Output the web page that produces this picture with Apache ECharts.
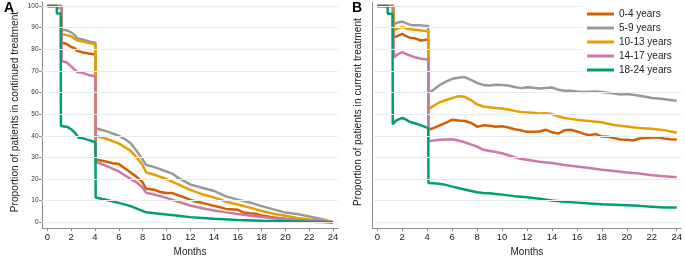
<!DOCTYPE html>
<html>
<head>
<meta charset="utf-8">
<script src="https://cdn.jsdelivr.net/npm/echarts@6/dist/echarts.min.js"></script>
<style>
  html, body { margin: 0; padding: 0; background: #fff; }
  #chart { width: 685px; height: 262px; }
</style>
</head>
<body>
<div id="chart"></div>
<script>
// age groups
var groups = ["0-4 years", "5-9 years", "10-13 years", "14-17 years", "18-24 years"];
var colors = ["#D55E00", "#999999", "#E69F00", "#CC79A7", "#009E73"];

// tick labels
var ticksX = [0, 2, 4, 6, 8, 10, 12, 14, 16, 18, 20, 22, 24];
var ticksY = [0, 10, 20, 30, 40, 50, 60, 70, 80, 90, 100];

// A: continued treatment  [month, %]
var contA04 = [[0,100],[1.18,100],[1.2,83],[1.6,82.5],[2,81],[2.3,80.5],[2.5,79.2],[3,78.5],[3.5,78],[4.04,77.5],[4.06,29],[5,28],[5.5,27.3],[6,27],[6.5,25],[7,23],[7.5,21],[8,18.5],[8.3,15.5],[9,15],[9.5,14],[10,13.5],[10.5,13.5],[11,12.5],[12,10.5],[12.5,9.5],[13,9],[14,7.6],[14.5,7],[15,6.2],[16,5.8],[16.5,4.5],[17,4.2],[17.5,4],[18,3.2],[19,2.2],[20,1.6],[21,1.1],[22,0.8],[23,0.4],[24,0]];
var contA59 = [[0,100],[0.8,100],[0.8,99],[1.18,99],[1.2,89],[1.6,88.8],[2,87.8],[2.3,86.5],[2.5,85],[3,84.5],[3.5,83.5],[4.04,83],[4.06,43.5],[5,42],[6,40],[6.5,38.5],[7,36.5],[7.5,33],[8,29],[8.3,26.5],[9,25.5],[10,23.5],[10.5,22.5],[11,20.5],[12,17.5],[13,16],[14,14.5],[15,12],[16,10.5],[17,9.2],[18,7.5],[19,6],[20,4.5],[21,3.8],[22,2.7],[23,1.5],[24,0]];
var contA1013 = [[0,100],[1.18,100],[1.2,87],[1.6,86.5],[2,86],[2.5,84],[3,83.5],[3.5,82.8],[4.04,82.3],[4.06,40],[5,38.5],[6,36.5],[7,33],[7.5,30],[8,26.5],[8.3,23],[9,22],[10,20],[11,17.5],[12,15],[13,13],[14,11.5],[15,9.5],[16,8.2],[17,6.8],[18,5.2],[19,4],[20,3],[21,2],[22,1.3],[23,0.8],[24,0]];
var contA1417 = [[0,100],[1.18,100],[1.2,74.5],[1.6,74],[2,72],[2.5,69.5],[3,69],[3.5,68],[4.04,67.5],[4.06,28],[5,26],[6,23.5],[7,20],[7.5,18.5],[8,16],[8.3,13.7],[9,12.8],[10,11.3],[11,9.5],[12,7.8],[13,6.5],[14,5.5],[15,4.6],[16,3.8],[17,3.2],[18,2.5],[19,1.9],[20,1.5],[21,1.1],[22,0.8],[23,0.4],[24,0]];
var contA1824 = [[0,100],[0.8,100],[0.8,96.5],[1.12,96.5],[1.14,44.5],[1.7,44],[2,43],[2.3,41.5],[2.6,39.2],[3,38.8],[3.5,38],[4.04,37],[4.06,11.5],[5,10.3],[6,9],[7,7.5],[8.3,4.6],[9,4.2],[10,3.6],[11,3],[12,2.4],[13,2],[14,1.6],[16,1.1],[18,0.7],[20,0.5],[22,0.3],[24,0]];

// B: current treatment  [month, %]
var currB04 = [[0,100],[1.28,100],[1.3,85.6],[1.6,86],[2,87.1],[2.3,86],[2.6,85.3],[3,85],[3.5,84],[4.08,84.5],[4.1,42.9],[4.5,43.5],[5,44.8],[5.5,46],[6,47.4],[6.5,47],[7,46.8],[7.5,46],[8,44.2],[8.5,44.8],[9,44.6],[9.5,44.2],[10,44.4],[10.5,43.8],[11,43],[11.5,42.5],[12,41.8],[12.5,41.8],[13,42],[13.5,42.8],[14,41.6],[14.5,41],[15,42.5],[15.5,42.8],[16,42],[16.5,41],[17,40.2],[17.5,40.8],[18,39.6],[18.5,39.5],[19,38.9],[19.5,38.3],[20,38.2],[20.5,37.8],[21,38.7],[21.5,39],[22,39.2],[22.5,39.3],[23,38.7],[23.5,38.4],[24,38.3]];
var currB59 = [[0,100],[1.28,100],[1.3,91.5],[1.6,92.3],[2,92.7],[2.4,91.8],[2.8,91],[3.5,91],[4.08,90.7],[4.1,59.8],[4.5,61.2],[5,63.4],[5.5,65],[6,66.3],[6.5,66.8],[7,67.1],[7.5,65.8],[8,64.4],[8.5,63.5],[9,63.2],[9.5,63.6],[10,63.5],[10.5,63.2],[11,62.5],[11.5,62],[12,62.4],[12.5,62.2],[13,61.8],[13.5,62.1],[14,62.3],[14.5,61.3],[15,60.8],[15.5,60.8],[16,60.4],[16.5,60.2],[17,60.3],[17.5,60.4],[18,60.2],[18.5,59.9],[19,59.5],[19.5,59.1],[20,59.3],[20.5,58.9],[21,58.5],[21.5,58],[22,57.4],[22.5,57.2],[23,56.9],[23.5,56.5],[24,56.2]];
var currB1013 = [[0,100],[1.28,100],[1.3,88.6],[1.6,89.5],[2,90.2],[2.5,89.3],[3,89],[3.5,88.6],[4.08,88.3],[4.1,52.2],[4.5,53.8],[5,55.5],[5.5,56.5],[6,57.4],[6.5,58.3],[7,58],[7.5,56.5],[8,54.5],[8.5,53.5],[9,53.2],[9.5,52.8],[10,52.6],[10.5,52.1],[11,51.5],[11.5,51],[12,50.8],[12.5,50.6],[13,50.3],[13.5,50.4],[14,50],[14.5,49],[15,48.2],[15.5,47.8],[16,47.4],[16.5,47],[17,46.8],[17.5,46.5],[18,46.2],[18.5,45.5],[19,45],[19.5,44.6],[20,44.3],[20.5,43.9],[21,43.6],[21.5,43.4],[22,43.2],[22.5,42.9],[23,42.6],[23.5,42],[24,41.4]];
var currB1417 = [[0,100],[1.22,100],[1.22,99],[1.32,99],[1.34,76.3],[1.6,77.5],[2,78.6],[2.5,77.3],[3,76.3],[3.5,75.6],[4.08,75.2],[4.1,37.4],[4.5,37.8],[5,38.1],[5.5,38.3],[6,38.4],[6.5,37.8],[7,37],[7.5,36],[8,35],[8.5,33.5],[9,33],[9.5,32.5],[10,31.9],[10.5,31],[11,30.1],[11.5,29.4],[12,28.9],[13,28],[14,27.4],[15,26.5],[16,25.8],[17,25.1],[18,24.3],[19,23.7],[20,23],[21,22.6],[22,21.8],[23,21.3],[24,20.8]];
var currB1824 = [[0,100],[0.83,100],[0.83,96.4],[1.22,96.4],[1.24,45.3],[1.5,47],[1.8,47.8],[2,48.2],[2.3,47.5],[2.6,46.4],[3,45.8],[3.5,44.8],[4.08,43.5],[4.1,18.2],[4.5,18],[5,17.8],[5.5,17.3],[6,16.5],[7,15.2],[8,13.9],[8.5,13.5],[9,13.4],[9.5,13.1],[10,12.8],[11,12.1],[12,11.6],[13,10.9],[14,10.1],[15,9.5],[16,9.1],[17,8.7],[18,8.3],[19,8.1],[20,7.9],[21,7.6],[22,7.2],[23,6.8],[24,6.8]];

var dataA = [contA04, contA59, contA1013, contA1417, contA1824];
var dataB = [currB04, currB59, currB1013, currB1417, currB1824];

var font = "Liberation Sans, Arial, sans-serif";
var axisColor = "#8c8c8c";

function makeX(idx, min, max) {
  return {
    type: "value", gridIndex: idx, min: min, max: max,
    name: "Months", nameLocation: "middle", nameGap: 13,
    nameTextStyle: { fontSize: 10, color: "#222", fontFamily: font },
    axisLine: { show: true, onZero: false, lineStyle: { color: axisColor, width: 1 } },
    axisTick: { show: true, customValues: ticksX, length: 3, lineStyle: { color: axisColor } },
    axisLabel: { customValues: ticksX, fontSize: 9.5, color: "#222", margin: 4, fontFamily: font },
    splitLine: { show: false }
  };
}

function makeY(idx, name, gap, withLabels) {
  return {
    type: "value", gridIndex: idx, min: -2.67, max: 101.8,
    name: name, nameLocation: "middle", nameGap: gap,
    nameTextStyle: { fontSize: 10.2, color: "#222", fontFamily: font, padding: [0, 0, 0, 6] },
    axisLine: { show: true, onZero: false, lineStyle: { color: axisColor, width: 1 } },
    axisTick: { show: withLabels, customValues: ticksY, length: 3, lineStyle: { color: axisColor } },
    axisLabel: { show: withLabels, customValues: ticksY, fontSize: 6.5, color: "#333", margin: 3.5, fontFamily: font },
    splitLine: { show: false }
  };
}

// light horizontal grid lines, drawn under the curves
function gridSeries(idx) {
  return {
    type: "line", xAxisIndex: idx, yAxisIndex: idx, data: [], z: 1, silent: true,
    markLine: {
      silent: true, symbol: "none", label: { show: false },
      lineStyle: { color: "#e6eef0", width: 1, type: "solid" },
      data: ticksY.map(function (v) { return { yAxis: v }; })
    }
  };
}

var series = [gridSeries(0), gridSeries(1)];
[dataA, dataB].forEach(function (set, idx) {
  set.forEach(function (d, i) {
    series.push({
      name: groups[i], type: "line", xAxisIndex: idx, yAxisIndex: idx,
      data: d, showSymbol: false, z: 3,
      lineStyle: { color: colors[i], width: 2.5 },
      itemStyle: { color: colors[i] }
    });
  });
});

var chart = echarts.init(document.getElementById("chart"));
chart.setOption({
  animation: false,
  backgroundColor: "#fff",
  title: [
    { text: "A", left: 4, top: 1, padding: 0, textStyle: { fontSize: 14, fontWeight: "bold", color: "#000", fontFamily: font } },
    { text: "B", left: 352, top: 1, padding: 0, textStyle: { fontSize: 14, fontWeight: "bold", color: "#000", fontFamily: font } }
  ],
  legend: {
    data: groups, orient: "vertical", left: 583, top: 5, padding: [2, 10, 2, 4],
    backgroundColor: "#fff", z: 10,
    icon: "rect", itemWidth: 27, itemHeight: 3, itemGap: 0,
    textStyle: { fontSize: 10, color: "#222", lineHeight: 14, fontFamily: font }
  },
  grid: [
    { left: 42, top: 2, width: 296, height: 235 },
    { left: 372.7, top: 2, width: 309, height: 235 }
  ],
  xAxis: [makeX(0, -0.45, 24.42), makeX(1, -0.37, 24.35)],
  yAxis: [
    makeY(0, "Proportion of patients in continued treatment", 22, true),
    makeY(1, "Proportion of patients in current treatment", 9.5, false)
  ],
  series: series
});
</script>
</body>
</html>
